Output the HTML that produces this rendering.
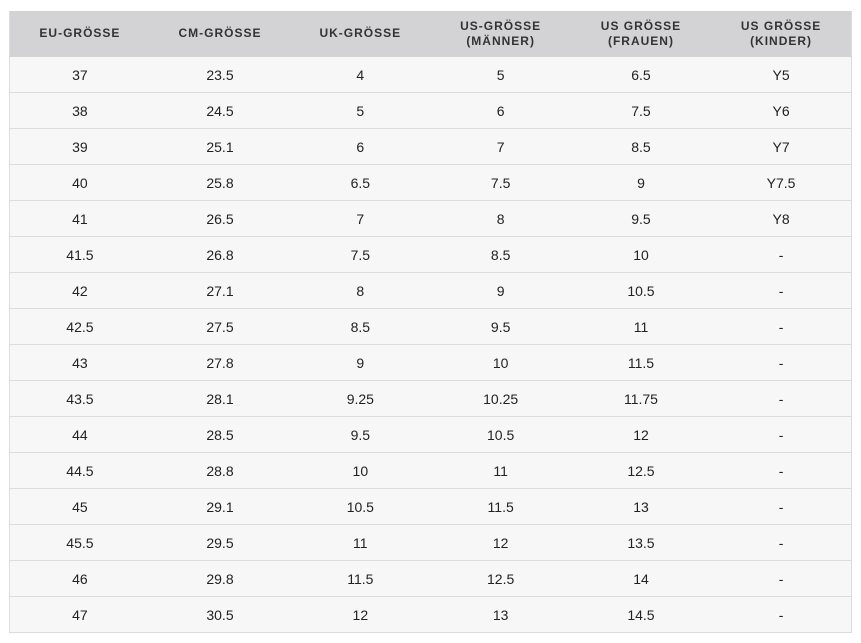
<!DOCTYPE html>
<html><head><meta charset="utf-8"><style>
html,body{margin:0;padding:0;background:#fff;width:861px;height:643px;overflow:hidden}
table{position:absolute;left:9px;top:11px;width:843px;border-collapse:collapse;table-layout:fixed;font-family:"Liberation Sans",sans-serif;border-left:1px solid #dcdcdc;border-right:1px solid #dcdcdc}
th{background:#d3d2d4;height:45px;padding:0;font-size:12px;font-weight:bold;letter-spacing:1px;color:#333;text-align:center;line-height:15px;border:none;border-bottom:1px solid #d3d2d4}
td{background:#f7f7f7;height:35px;padding:0;font-size:14px;color:#222;text-align:center;border:none;border-bottom:1px solid #dcdcdc}
</style></head><body>
<table>
<tr><th>EU-GRÖSSE</th><th>CM-GRÖSSE</th><th>UK-GRÖSSE</th><th>US-GRÖSSE<br>(MÄNNER)</th><th>US GRÖSSE<br>(FRAUEN)</th><th>US GRÖSSE<br>(KINDER)</th></tr>
<tr><td>37</td><td>23.5</td><td>4</td><td>5</td><td>6.5</td><td>Y5</td></tr>
<tr><td>38</td><td>24.5</td><td>5</td><td>6</td><td>7.5</td><td>Y6</td></tr>
<tr><td>39</td><td>25.1</td><td>6</td><td>7</td><td>8.5</td><td>Y7</td></tr>
<tr><td>40</td><td>25.8</td><td>6.5</td><td>7.5</td><td>9</td><td>Y7.5</td></tr>
<tr><td>41</td><td>26.5</td><td>7</td><td>8</td><td>9.5</td><td>Y8</td></tr>
<tr><td>41.5</td><td>26.8</td><td>7.5</td><td>8.5</td><td>10</td><td>-</td></tr>
<tr><td>42</td><td>27.1</td><td>8</td><td>9</td><td>10.5</td><td>-</td></tr>
<tr><td>42.5</td><td>27.5</td><td>8.5</td><td>9.5</td><td>11</td><td>-</td></tr>
<tr><td>43</td><td>27.8</td><td>9</td><td>10</td><td>11.5</td><td>-</td></tr>
<tr><td>43.5</td><td>28.1</td><td>9.25</td><td>10.25</td><td>11.75</td><td>-</td></tr>
<tr><td>44</td><td>28.5</td><td>9.5</td><td>10.5</td><td>12</td><td>-</td></tr>
<tr><td>44.5</td><td>28.8</td><td>10</td><td>11</td><td>12.5</td><td>-</td></tr>
<tr><td>45</td><td>29.1</td><td>10.5</td><td>11.5</td><td>13</td><td>-</td></tr>
<tr><td>45.5</td><td>29.5</td><td>11</td><td>12</td><td>13.5</td><td>-</td></tr>
<tr><td>46</td><td>29.8</td><td>11.5</td><td>12.5</td><td>14</td><td>-</td></tr>
<tr><td>47</td><td>30.5</td><td>12</td><td>13</td><td>14.5</td><td>-</td></tr>
</table>
</body></html>
